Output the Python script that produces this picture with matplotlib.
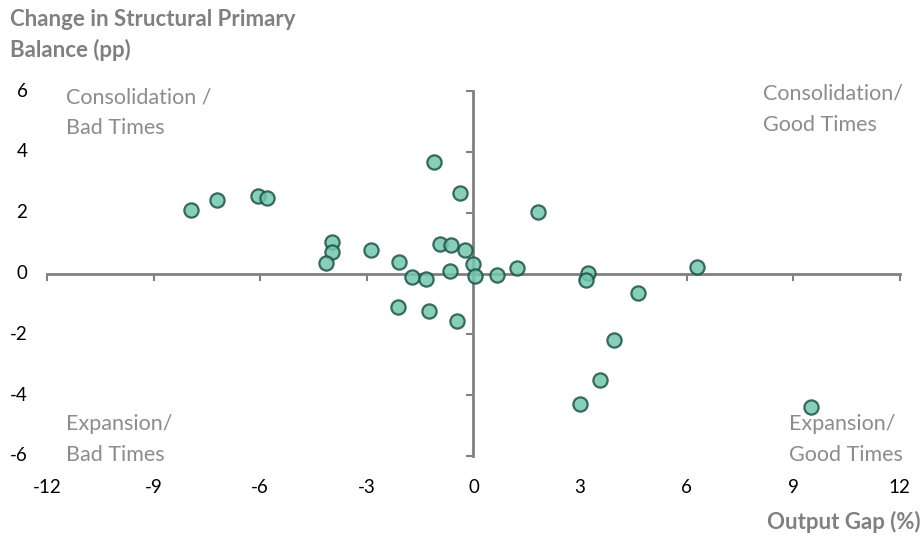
import matplotlib as mpl
import matplotlib.pyplot as plt
import matplotlib.transforms as mtransforms

# output gap (%) and change in structural primary balance (pp)
output_gap = [-7.95, -7.23, -6.06, -5.82, -3.97, -3.99, -4.16, -2.88, -2.09, -1.72,
              -1.34, -1.10, -0.39, -0.95, -0.63, -0.24, 0.00, -0.65, 0.04, 0.66,
              -2.11, -1.26, -0.47, 1.81, 1.23, 3.21, 3.17, 4.64, 6.30, 3.95,
              3.56, 2.99, 9.50]
balance_change = [2.10, 2.42, 2.55, 2.50, 1.04, 0.72, 0.36, 0.76, 0.39, -0.11,
                  -0.18, 3.68, 2.65, 0.97, 0.95, 0.78, 0.33, 0.08, -0.07, -0.04,
                  -1.10, -1.23, -1.55, 2.03, 0.17, 0.03, -0.22, -0.65, 0.21, -2.17,
                  -3.51, -4.30, -4.39]

x_ticks = [-12, -9, -6, -3, 0, 3, 6, 9, 12]
y_ticks = [-6, -4, -2, 0, 2, 4, 6]

GRAY = "#808080"
LABEL_GRAY = "#8c8c8c"


def main():
    mpl.rc("font", family=["Lato", "DejaVu Sans"])

    fig = plt.figure(figsize=(9.22, 5.39), dpi=100)
    ax = fig.add_axes([0.051, 0.154, 0.925, 0.677])
    ax.set_xlim(-12, 12)
    ax.set_ylim(-6, 6)

    ax.scatter(output_gap, balance_change, s=105, facecolor="#72c7ac",
               edgecolor="#1d5443", linewidth=1.6, alpha=0.85, zorder=3)

    # axes crossing at the origin
    for side in ("top", "right"):
        ax.spines[side].set_visible(False)
    ax.spines["left"].set_position(("data", 0))
    ax.spines["bottom"].set_position(("data", 0))
    for side in ("left", "bottom"):
        ax.spines[side].set_color(GRAY)
        ax.spines[side].set_linewidth(2)
        ax.spines[side].set_zorder(2)
    ax.tick_params(axis="x", direction="out", length=5, width=1.5, color=GRAY,
                   labelbottom=False)
    ax.tick_params(axis="y", direction="out", length=5, width=1.5, color=GRAY,
                   labelleft=False)
    ax.set_xticks([t for t in x_ticks if t != 0])
    ax.set_yticks([t for t in y_ticks if t != 0])

    # tick labels along the frame edges, not along the crossing axes
    tx = mtransforms.blended_transform_factory(ax.transData, ax.transAxes)
    for t in x_ticks:
        ax.text(t, -0.085, str(t), transform=tx, ha="center", va="center",
                fontsize=13.5, color="black")
    ty = mtransforms.blended_transform_factory(ax.transAxes, ax.transData)
    for t in y_ticks:
        ax.text(-0.023, t, str(t), transform=ty, ha="right", va="center",
                fontsize=13.5, color="black")

    # quadrant labels
    qkw = dict(fontsize=15.5, color=LABEL_GRAY, linespacing=1.68,
               multialignment="left", ha="left")
    ax.text(-11.46, 6.12, "Consolidation /\nBad Times", va="top", **qkw)
    ax.text(8.15, 6.24, "Consolidation/\nGood Times", va="top", **qkw)
    ax.text(-11.46, -6.3, "Expansion/\nBad Times", va="bottom", **qkw)
    ax.text(8.88, -6.3, "Expansion/\nGood Times", va="bottom", **qkw)

    fig.text(0.011, 0.983, "Change in Structural Primary\nBalance (pp)", ha="left",
             va="top", fontsize=16, fontweight="bold", color=GRAY,
             linespacing=1.48)
    fig.text(0.998, 0.0315, "Output Gap (%)", ha="right", va="center",
             fontsize=16, fontweight="bold", color=GRAY)

    fig.savefig("out.png", dpi=100)


if __name__ == "__main__":
    main()
